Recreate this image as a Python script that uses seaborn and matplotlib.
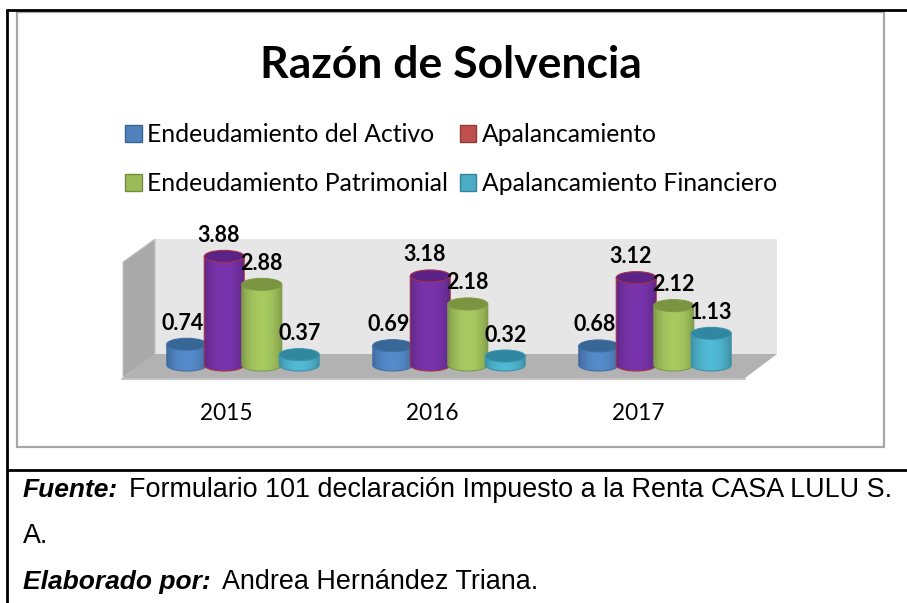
import numpy as np
import pandas as pd
import matplotlib
matplotlib.use("Agg")
import matplotlib.pyplot as plt
import seaborn as sns
from matplotlib.patches import Ellipse, Polygon, Rectangle, Patch
from matplotlib.colors import to_rgb
from matplotlib.transforms import ScaledTranslation

# Chart data
years = ["2015", "2016", "2017"]
series_names = ["Endeudamiento del Activo", "Apalancamiento",
                "Endeudamiento Patrimonial", "Apalancamiento Financiero"]
endeudamiento_activo = [0.74, 0.69, 0.68]
apalancamiento = [3.88, 3.18, 3.12]
endeudamiento_patrimonial = [2.88, 2.18, 2.12]
apalancamiento_financiero = [0.37, 0.32, 1.13]

bar_colors = ["#4F81BD", "#7030A0", "#9BBB59", "#4BACC6"]
top_colors = ["#386795", "#5A2385", "#7A9440", "#2F87A0"]
edge_colors = ["#3F6FA8", "#A83048", "#7F9A48", "#3C93AB"]
legend_colors = ["#4F81BD", "#C0504D", "#9BBB59", "#4BACC6"]
legend_edges = ["#3A6391", "#8F3A38", "#748C42", "#37819A"]
label_shift = [-4, -6, 0, 0]

W, H = 907, 603
sns.set_theme(style="white")
plt.rcParams["font.family"] = ["Lato", "DejaVu Sans"]

df = pd.DataFrame({
    "year": years * 4,
    "serie": np.repeat(series_names, 3),
    "valor": endeudamiento_activo + apalancamiento + endeudamiento_patrimonial + apalancamiento_financiero,
})

fig = plt.figure(figsize=(W / 100, H / 100), dpi=100, facecolor="white")

# background layer in pixel coordinates (page frame, chart frame, 3D walls)
bg = fig.add_axes([0, 0, 1, 1])
bg.set_xlim(0, W)
bg.set_ylim(H, 0)
bg.axis("off")

bg.plot([7, 7], [9, H], color="black", lw=2.0, solid_capstyle="butt")
bg.plot([6, W], [10, 10], color="black", lw=2.0, solid_capstyle="butt")
bg.plot([6, W], [469.5, 469.5], color="black", lw=2.0, solid_capstyle="butt")
bg.add_patch(Rectangle((16.5, 12), 867, 435, fill=False, ec="#A6A6A6", lw=1.6))

bg.add_patch(Polygon([(155, 239), (777, 239), (777, 355), (155, 355)], fc="#E6E6E6", ec="none"))
bg.add_patch(Polygon([(123, 262), (155, 239), (155, 355), (123, 378)], fc="#A9A9A9", ec="#C4C4C4", lw=0.8))
bg.add_patch(Polygon([(123, 378), (155, 354), (777, 354), (745, 378)], fc="#B2B2B2", ec="none"))
bg.plot([122, 745], [379, 379], color="#C4C4C4", lw=1.5)

# plot layer: y=0 sits at pixel 365, 28 px per unit, 206 px per category
ax_left, ax_right, ax_top, ax_bottom = 155, 777, 239, 380
ax = fig.add_axes([ax_left / W, 1 - ax_bottom / H, (ax_right - ax_left) / W, (ax_bottom - ax_top) / H])
ax.patch.set_alpha(0)

sns.barplot(data=df, x="year", y="valor", hue="serie", hue_order=series_names,
            palette=bar_colors, width=0.728, gap=0, ax=ax, legend=False, errorbar=None)

xlim = ((ax_left - 243) / 206, (ax_right - 243) / 206)
ylim = ((365 - ax_bottom) / 28, (365 - ax_top) / 28)
ell_h = 12 / 28
cyl_w = 40 / 206

bars = [p for p in ax.patches if p.get_height() > 0]
for i, bar in enumerate(bars):
    s = i // 3
    xc = bar.get_x() + bar.get_width() / 2
    val = bar.get_height()
    x0, x1 = xc - cyl_w / 2, xc + cyl_w / 2
    z = 3 + s * 2 + i % 3 * 0.01
    bar.set_visible(False)

    # cylinder body: shaded horizontally, rounded at the bottom
    base = np.array(to_rgb(bar_colors[s]))
    t = np.linspace(0, 1, 60)
    shade = 0.82 + 0.26 * np.sin(np.pi * t) ** 0.7
    img = np.clip(base[None, :] * shade[:, None], 0, 1)[None, :, :]
    theta = np.linspace(np.pi, 2 * np.pi, 40)
    arc = np.column_stack([xc + cyl_w / 2 * np.cos(theta), ell_h / 2 * np.sin(theta)])
    outline_pts = np.vstack([[[x0, val]], arc, [[x1, val]]])
    body = Polygon(outline_pts, closed=True, transform=ax.transData, fc="none", ec="none")
    ax.add_patch(body)
    im = ax.imshow(img, extent=(x0, x1, -ell_h, val), aspect="auto", zorder=z + 0.1, interpolation="bilinear")
    im.set_clip_path(body)

    ax.add_patch(Polygon(outline_pts, closed=True, fc="none", ec=edge_colors[s], lw=0.8,
                         zorder=z + 0.2, clip_on=False))
    ax.add_patch(Ellipse((xc, val), cyl_w, ell_h, fc=top_colors[s], ec=edge_colors[s], lw=0.8,
                         zorder=z + 0.3, clip_on=False))

    ax.annotate(f"{val:.2f}", (xc, val), xytext=(label_shift[s], 21), textcoords="offset pixels",
                ha="center", va="center", fontsize=15.5, fontweight="bold", color="black",
                zorder=20, annotation_clip=False)

ax.set_xlim(xlim)
ax.set_ylim(ylim)
ax.set_xlabel("")
ax.set_ylabel("")
ax.set_yticks([])
ax.tick_params(axis="x", length=0, labelsize=16.3, labelcolor="black", pad=0)
sns.despine(ax=ax, left=True, bottom=True)

# tick labels sit left of and below the bars because of the 3D projection
offset = ScaledTranslation(-17 / 100, -23 / 100, fig.dpi_scale_trans)
for lab in ax.get_xticklabels():
    lab.set_transform(lab.get_transform() + offset)

# legend and title, two rows filled column by column
order = [0, 2, 1, 3]
handles = [Patch(fc=legend_colors[k], ec=legend_edges[k], lw=1.0) for k in order]
labels = [series_names[k] for k in order]
fig.legend(handles, labels, ncol=2, loc="center left", frameon=False, bbox_to_anchor=(125 / W, 1 - 159 / H),
           fontsize=17.8, handlelength=0.67, handleheight=0.67, handletextpad=0.24, columnspacing=0.45,
           labelspacing=1.06, borderpad=0, borderaxespad=0, labelcolor="black")

fig.text(451 / W, 1 - 65 / H, "Razón de Solvencia", ha="center", va="center",
         fontsize=32, fontweight="bold", color="black")

# footer, Arial like
def footer(x, y, text, bold=False):
    return bg.text(x, y, text, family="Liberation Sans", fontsize=19 if bold else 19.4, color="black",
                   va="center", fontstyle="italic" if bold else "normal",
                   fontweight="bold" if bold else "normal")

footer(23, 490, "Fuente:", True)
footer(129, 490, "Formulario 101 declaración Impuesto a la Renta CASA LULU S.")
footer(23, 536, "A.")
footer(23, 582, "Elaborado por:", True)
footer(222, 582, "Andrea Hernández Triana.")

fig.savefig("out.png", dpi=100)
